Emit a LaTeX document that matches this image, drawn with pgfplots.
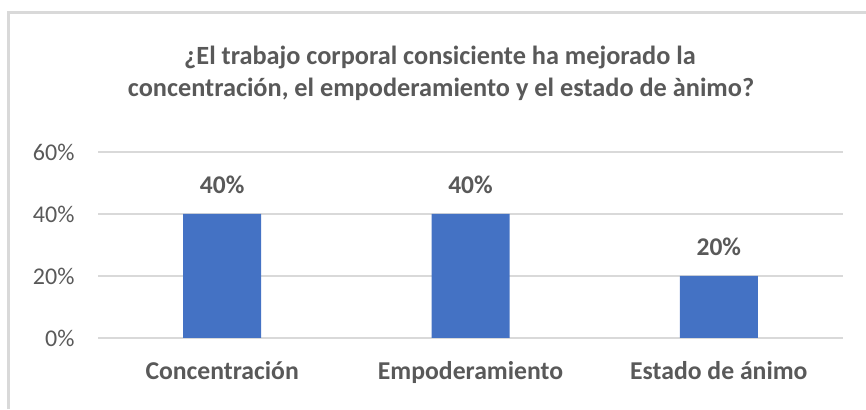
\documentclass[border=0pt]{standalone}
\usepackage{fontspec}
\setmainfont{Carlito}
\usepackage{pgfplots}
\pgfplotsset{compat=1.18}
\definecolor{barblue}{HTML}{4472C4}
\definecolor{txtgray}{HTML}{595959}
\definecolor{gridgray}{HTML}{D9D9D9}
\begin{document}
\begin{tikzpicture}[x=1pt,y=1pt]
\useasboundingbox (0,0) rectangle (866,409);
\draw[gridgray, line width=2.5pt] (8.7,0) -- (8.7,396.5) -- (866,396.5);
\node[anchor=base, font=\fontsize{26.3}{30}\selectfont\bfseries, text=txtgray] at (440,344) {¿El trabajo corporal consiciente ha mejorado la};
\node[anchor=base, font=\fontsize{26.3}{30}\selectfont\bfseries, text=txtgray] at (441,312) {concentración, el empoderamiento y el estado de ànimo?};
\begin{axis}[
  at={(98pt,71pt)}, anchor=south west,
  scale only axis, width=745pt, height=186pt,
  xmin=-0.5, xmax=2.5, ymin=0, ymax=60,
  ytick={0,20,40,60}, yticklabels={0\%,20\%,40\%,60\%},
  xtick={0,1,2}, xticklabels={Concentración,Empoderamiento,Estado de ánimo},
  major tick length=0pt,
  axis line style={draw=none},
  ymajorgrids, grid style={gridgray, line width=1.5pt},
  yticklabel style={font=\fontsize{24}{30}\selectfont, text=txtgray, xshift=-20pt},
  xticklabel style={font=\fontsize{25.7}{30}\selectfont\bfseries, text=txtgray, yshift=-20pt},
  ybar, bar width=78pt, bar shift=0pt,
  nodes near coords={\pgfmathprintnumber[assume math mode=true]{\pgfplotspointmeta}\%},
  every node near coord/.append style={font=\fontsize{25.5}{30}\selectfont\bfseries, text=txtgray, yshift=17pt},
  clip=false,
]
\addplot[fill=barblue, draw=none] coordinates {(0,40) (1,40) (2,20)};
\end{axis}
\end{tikzpicture}
\end{document}
